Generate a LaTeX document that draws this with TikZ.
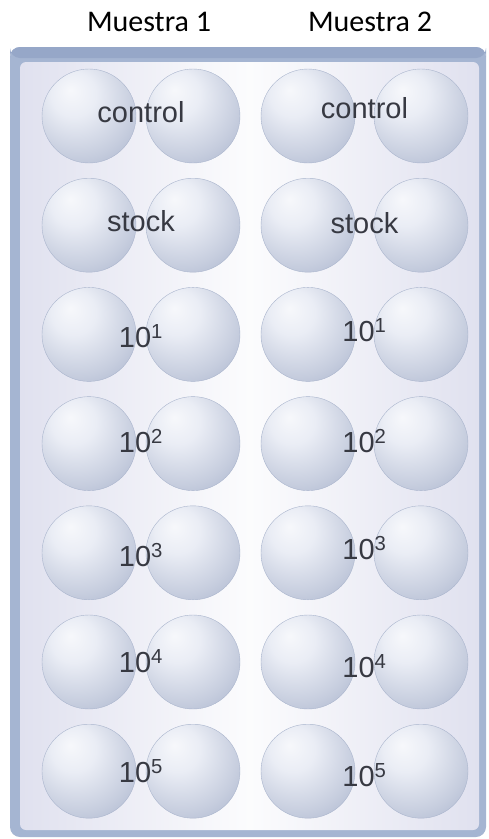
\documentclass[tikz,border=0pt]{standalone}
\usepackage{fontspec}
\usetikzlibrary{calc}
\newfontfamily\wellfont{Liberation Sans}
\newfontfamily\headfont{Carlito}
\definecolor{platerim}{RGB}{165,181,210}
\definecolor{platetop}{RGB}{150,167,200}
\definecolor{platebg}{RGB}{224,225,239}
\definecolor{wellhi}{RGB}{234,237,245}
\definecolor{wellmid}{RGB}{198,205,222}
\definecolor{wellrim}{RGB}{166,177,203}
\definecolor{welledge}{RGB}{134,149,183}
\definecolor{labelgray}{RGB}{55,57,66}
\pgfdeclareradialshading{wellshade}{\pgfpoint{-10bp}{14bp}}{%
  color(0bp)=(white!60!wellhi); color(12bp)=(wellhi); color(30bp)=(wellmid);
  color(44bp)=(wellrim); color(53bp)=(welledge); color(70bp)=(welledge)}
\tikzset{
  well/.style={circle, minimum size=94pt, inner sep=0pt, shading=wellshade,
    draw=welledge!70, line width=0.4pt},
  welllabel/.style={text=labelgray, font=\wellfont\fontsize{29}{32}\selectfont, inner sep=0pt},
  header/.style={font=\headfont\fontsize{30}{33}\selectfont, inner sep=0pt}
}
\begin{document}
\begin{tikzpicture}[x=1pt,y=-1pt]
\useasboundingbox (0,0) rectangle (488,839);
% plate
\fill[platerim, rounded corners=10pt] (10,47) rectangle (486,837);
\fill[platetop, rounded corners=10pt] (10,47) rectangle (486,58);
\shade[rounded corners=6pt, left color=platebg, right color=platebg, middle color=white!90!platebg]
  (20,62) rectangle (479,830);
% headers
\node[header] (m1) at (149,22) {Muestra 1};
\node[header] (m2) at (370,22) {Muestra 2};
% wells and labels
\foreach \lab/\dya/\dyb [count=\r from 0] in {control/-4/-8, stock/-4/-2,
    10\textsuperscript{1}/2/-4, 10\textsuperscript{2}/-3/-3, 10\textsuperscript{3}/2/-5,
    10\textsuperscript{4}/-1/4, 10\textsuperscript{5}/0/4}{
  \pgfmathsetmacro{\yy}{116+109.2*\r}
  \node[well] (a\r) at (89,\yy) {};
  \node[well] (b\r) at (193,\yy) {};
  \node[well] (c\r) at (308,\yy) {};
  \node[well] (d\r) at (421,\yy) {};
  \node[welllabel] (la\r) at ($(a\r)!0.5!(b\r)+(0,\dya)$) {\lab};
  \node[welllabel] (lb\r) at ($(c\r)!0.5!(d\r)+(0,\dyb)$) {\lab};
}
\end{tikzpicture}
\end{document}
